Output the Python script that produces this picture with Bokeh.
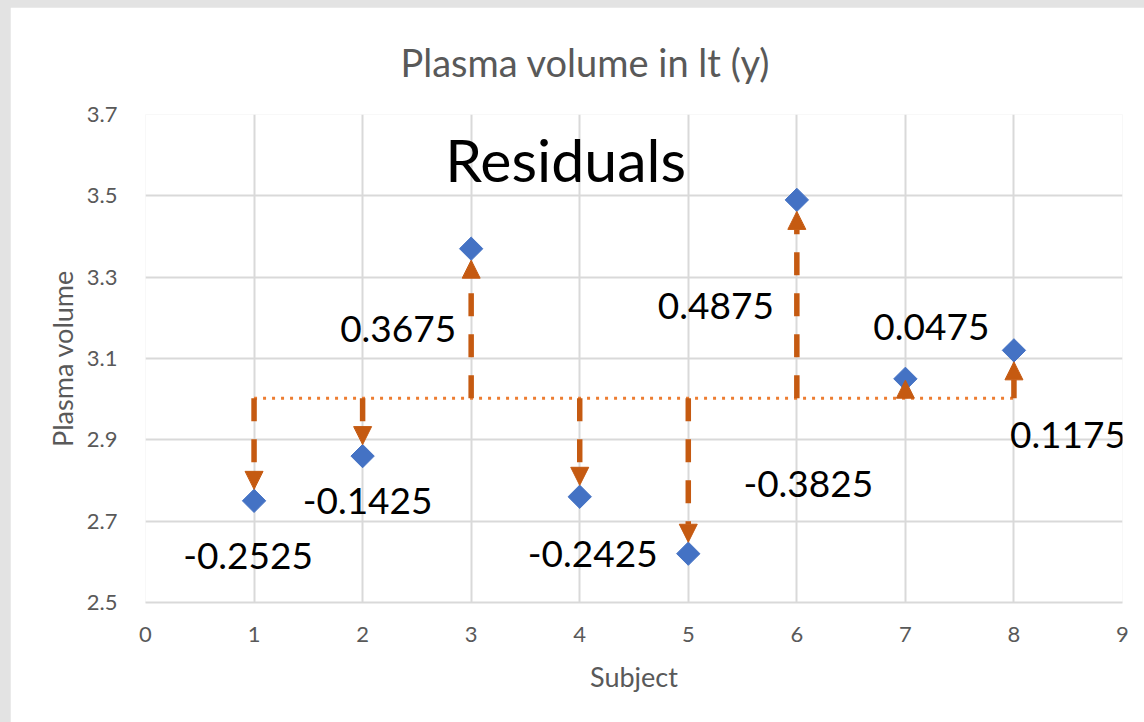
import math
from bokeh.plotting import figure
from bokeh.models import (Range1d, FixedTicker, ColumnDataSource, Arrow, NormalHead, Label)
from bokeh.layouts import column
from bokeh.embed import file_html
from bokeh.resources import INLINE

# ---- data ----
subject = [1, 2, 3, 4, 5, 6, 7, 8]
plasma_volume = [2.75, 2.86, 3.37, 2.76, 2.62, 3.49, 3.05, 3.12]
mean_volume = 3.0025
residual_labels = ["-0.2525", "-0.1425", "0.3675", "-0.2425",
                   "-0.3825", "0.4875", "0.0475", "0.1175"]
x_ticks = [0, 1, 2, 3, 4, 5, 6, 7, 8, 9]
y_ticks = [2.5, 2.7, 2.9, 3.1, 3.3, 3.5, 3.7]
title_text = "Plasma volume in lt (y)"

# ---- styling (label offsets in screen pixels relative to each point) ----
label_dx = [-6, 5, -73, 13, 120, -81, 26, 54]
label_dy = [55, 45, 80, 57, -70, 106, -52, 85]

FONT = "Lato"
GRAY = "#595959"
GRID = "#d9d9d9"
BLUE = "#4472C4"
ARROW = "#C55A11"
DOT = "#ED7D31"

W, H = 1134, 715
BT, BB = 106, 120
p = figure(width=W, height=H, x_range=Range1d(0, 9), y_range=Range1d(2.5, 3.7),
           output_backend="svg", toolbar_location=None,
           min_border_left=135, min_border_right=22, min_border_top=BT,
           min_border_bottom=BB)
p.margin = (7, 0, 0, 10)
p.outline_line_color = None
p.background_fill_color = "white"
p.border_fill_color = "white"

# title
p.title.text = title_text
p.title.text_font = FONT
p.title.text_font_size = "38px"
p.title.text_font_style = "normal"
p.title.text_color = GRAY
p.title.align = "left"
p.title.offset = 255
p.title.standoff = 59

# axes
p.xaxis.ticker = FixedTicker(ticks=x_ticks)
p.yaxis.ticker = FixedTicker(ticks=y_ticks)
for ax in (p.xaxis[0], p.yaxis[0]):
    ax.axis_line_color = GRID
    ax.axis_line_width = 2
    ax.major_tick_line_color = None
    ax.minor_tick_line_color = None
    ax.major_label_text_font = FONT
    ax.major_label_text_font_size = "22px"
    ax.major_label_text_color = GRAY
    ax.axis_label_text_font = FONT
    ax.axis_label_text_font_size = "27px"
    ax.axis_label_text_font_style = "normal"
    ax.axis_label_text_color = GRAY
p.xaxis.axis_label = "Subject"
p.yaxis.axis_label = "Plasma volume"
p.xaxis.major_label_standoff = 18
p.yaxis.major_label_standoff = 22
p.xaxis.axis_label_standoff = 15
p.yaxis.axis_label_standoff = 5
p.yaxis.axis_line_color = None

p.xgrid.ticker = FixedTicker(ticks=x_ticks)
p.ygrid.ticker = FixedTicker(ticks=y_ticks)
p.grid.grid_line_color = GRID
p.grid.grid_line_width = 2

# mean line (dotted) from first to last subject
p.line([subject[0], subject[-1]], [mean_volume, mean_volume],
       line_color=DOT, line_width=3, line_dash="3 6")

# points
p.scatter(subject, plasma_volume, marker="square", size=16.5, angle=math.pi / 4,
          fill_color=BLUE, line_color=BLUE)

# arrows from mean to point, stopping at marker edge
frame_h = H - BT - BB
px_per_unit = frame_h / (3.7 - 2.5)
gap = 11.5 / px_per_unit
head_len = 18 / px_per_unit
y_end = []
for yv in plasma_volume:
    r = yv - mean_volume
    s = 1 if r > 0 else -1
    y_end.append(mean_volume + s * max(abs(r) - gap, head_len))
src = ColumnDataSource(dict(x=subject, y0=[mean_volume] * len(subject), y1=y_end))
p.add_layout(Arrow(end=NormalHead(size=18, fill_color=ARROW, line_color=ARROW, line_width=1),
                   x_start="x", y_start="y0", x_end="x", y_end="y1", source=src,
                   line_color=ARROW, line_width=5.5, line_dash="23 18"))

# residual labels
for xv, yv, t, dx, dy in zip(subject, plasma_volume, residual_labels, label_dx, label_dy):
    p.add_layout(Label(x=xv, y=yv, text=t, x_offset=dx, y_offset=-dy,
                       text_align="center", text_baseline="middle",
                       text_font=FONT, text_font_size="37px", text_color="black"))

p.add_layout(Label(x=3.87, y=3.59, text="Residuals", text_align="center",
                   text_baseline="middle", text_font=FONT, text_font_size="59px",
                   text_color="black"))

layout = column(p, styles={"background-color": "#e3e3e3"})
open("out.html", "w").write(file_html(layout, INLINE))
